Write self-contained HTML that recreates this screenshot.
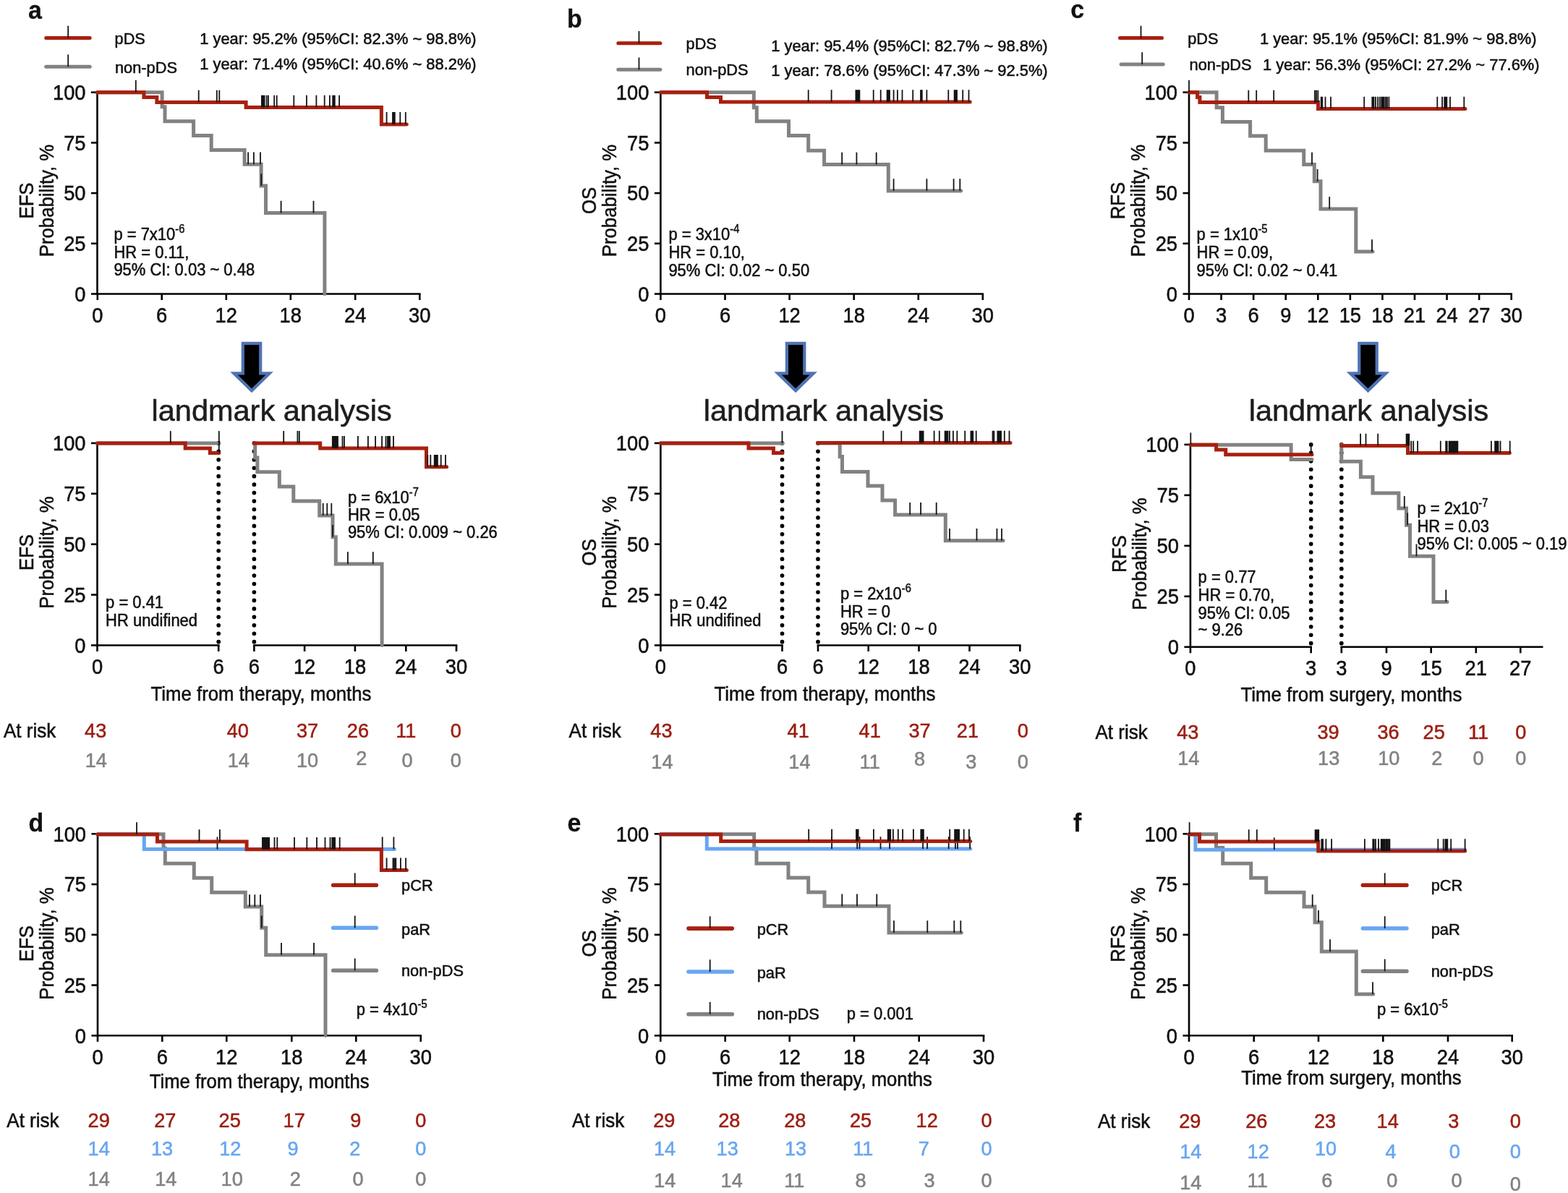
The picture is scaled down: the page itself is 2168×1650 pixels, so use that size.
<!DOCTYPE html>
<html><head><meta charset="utf-8"><title>Kaplan-Meier survival analysis</title>
<style>
html,body{margin:0;padding:0;background:#fff;}
body{width:2168px;height:1650px;overflow:hidden;}
svg{display:block;}
text{font-family:"Liberation Sans",Arial,Helvetica,sans-serif;}
</style></head><body>
<svg width="2168" height="1650" viewBox="0 0 2168 1650">
<rect width="2168" height="1650" fill="#fff"/>
<g fill="#111">
<text transform="translate(39.00 25.50) scale(0.9700 1)" font-size="35" font-weight="bold" stroke="#111" stroke-width="0.3">a</text>
<line x1="63.70" y1="52.50" x2="124.20" y2="52.50" stroke="#a8200f" stroke-width="5" stroke-linecap="round"/>
<path d="M94.20 52.50V35.70" stroke="#141414" stroke-width="1.8" fill="none"/>
<line x1="63.70" y1="92.20" x2="124.20" y2="92.20" stroke="#828282" stroke-width="5" stroke-linecap="round"/>
<path d="M94.20 92.20V75.40" stroke="#141414" stroke-width="1.8" fill="none"/>
<text transform="translate(158.60 60.70) scale(0.9643 1)" font-size="22.5" stroke="#111" stroke-width="0.55">pDS</text>
<text transform="translate(159.00 100.60) scale(0.9689 1)" font-size="22.5" stroke="#111" stroke-width="0.55">non-pDS</text>
<text transform="translate(276.20 60.70) scale(0.9725 1)" font-size="22.5" stroke="#111" stroke-width="0.55">1 year: 95.2% (95%CI: 82.3% ~ 98.8%)</text>
<text transform="translate(276.20 95.70) scale(0.9725 1)" font-size="22.5" stroke="#111" stroke-width="0.55">1 year: 71.4% (95%CI: 40.6% ~ 88.2%)</text>
<line x1="134.50" y1="126.40" x2="134.50" y2="407.80" stroke="#000" stroke-width="2.6"/>
<line x1="126.00" y1="127.70" x2="134.50" y2="127.70" stroke="#000" stroke-width="2.6"/>
<text transform="translate(118.50 137.90) scale(0.9550 1)" font-size="28.6" text-anchor="end" stroke="#111" stroke-width="0.55">100</text>
<line x1="126.00" y1="197.40" x2="134.50" y2="197.40" stroke="#000" stroke-width="2.6"/>
<text transform="translate(118.50 207.60) scale(0.9550 1)" font-size="28.6" text-anchor="end" stroke="#111" stroke-width="0.55">75</text>
<line x1="126.00" y1="267.10" x2="134.50" y2="267.10" stroke="#000" stroke-width="2.6"/>
<text transform="translate(118.50 277.30) scale(0.9550 1)" font-size="28.6" text-anchor="end" stroke="#111" stroke-width="0.55">50</text>
<line x1="126.00" y1="336.80" x2="134.50" y2="336.80" stroke="#000" stroke-width="2.6"/>
<text transform="translate(118.50 347.00) scale(0.9550 1)" font-size="28.6" text-anchor="end" stroke="#111" stroke-width="0.55">25</text>
<line x1="126.00" y1="406.50" x2="134.50" y2="406.50" stroke="#000" stroke-width="2.6"/>
<text transform="translate(118.50 416.70) scale(0.9550 1)" font-size="28.6" text-anchor="end" stroke="#111" stroke-width="0.55">0</text>
<line x1="133.20" y1="406.50" x2="581.60" y2="406.50" stroke="#000" stroke-width="2.6"/>
<line x1="134.80" y1="406.50" x2="134.80" y2="415.00" stroke="#000" stroke-width="2.6"/>
<text transform="translate(134.80 445.70) scale(0.9550 1)" font-size="28.6" text-anchor="middle" stroke="#111" stroke-width="0.55">0</text>
<line x1="223.70" y1="406.50" x2="223.70" y2="415.00" stroke="#000" stroke-width="2.6"/>
<text transform="translate(223.70 445.70) scale(0.9550 1)" font-size="28.6" text-anchor="middle" stroke="#111" stroke-width="0.55">6</text>
<line x1="312.80" y1="406.50" x2="312.80" y2="415.00" stroke="#000" stroke-width="2.6"/>
<text transform="translate(312.80 445.70) scale(0.9550 1)" font-size="28.6" text-anchor="middle" stroke="#111" stroke-width="0.55">12</text>
<line x1="401.80" y1="406.50" x2="401.80" y2="415.00" stroke="#000" stroke-width="2.6"/>
<text transform="translate(401.80 445.70) scale(0.9550 1)" font-size="28.6" text-anchor="middle" stroke="#111" stroke-width="0.55">18</text>
<line x1="491.20" y1="406.50" x2="491.20" y2="415.00" stroke="#000" stroke-width="2.6"/>
<text transform="translate(491.20 445.70) scale(0.9550 1)" font-size="28.6" text-anchor="middle" stroke="#111" stroke-width="0.55">24</text>
<line x1="580.30" y1="406.50" x2="580.30" y2="415.00" stroke="#000" stroke-width="2.6"/>
<text transform="translate(580.30 445.70) scale(0.9550 1)" font-size="28.6" text-anchor="middle" stroke="#111" stroke-width="0.55">30</text>
<text transform="translate(45.50 277.50) rotate(-90) scale(0.9200 1)" font-size="28" text-anchor="middle" stroke="#111" stroke-width="0.55">EFS</text>
<text transform="translate(73.50 277.50) rotate(-90) scale(0.9200 1)" font-size="28" text-anchor="middle" stroke="#111" stroke-width="0.55">Probability, %</text>
<path d="M134.5 127.7H224.1V147.7H228.0V167.7H267.6V187.6H292.2V207.5H338.1V227.2H361.1V257.0H367.5V294.6H448.9V406.5" fill="none" stroke="#828282" stroke-width="5" stroke-linecap="round" stroke-linejoin="miter"/>
<path d="M343.10 227.20V210.40 M350.90 227.20V210.40 M360.00 227.20V210.40" stroke="#141414" stroke-width="1.8" fill="none"/>
<path d="M361.30 257.00V240.20" stroke="#141414" stroke-width="1.8" fill="none"/>
<path d="M388.60 294.60V277.80 M433.50 294.60V277.80" stroke="#141414" stroke-width="1.8" fill="none"/>
<path d="M134.5 127.7H198.9V134.6H216.9V141.6H340.1V148.6H527.4V171.9H562.3" fill="none" stroke="#a8200f" stroke-width="5" stroke-linecap="round" stroke-linejoin="miter"/>
<path d="M187.80 127.70V110.90" stroke="#141414" stroke-width="1.8" fill="none"/>
<path d="M274.70 141.60V124.80 M299.80 141.60V124.80 M303.30 141.60V124.80" stroke="#141414" stroke-width="1.8" fill="none"/>
<path d="M361.90 148.60V131.80 M363.10 148.60V131.80 M364.40 148.60V131.80 M365.60 148.60V131.80 M368.60 148.60V131.80 M370.90 148.60V131.80 M379.20 148.60V131.80 M382.70 148.60V131.80 M406.30 148.60V131.80 M423.90 148.60V131.80 M437.40 148.60V131.80 M448.70 148.60V131.80 M455.90 148.60V131.80 M460.20 148.60V131.80 M461.70 148.60V131.80 M462.80 148.60V131.80 M469.10 148.60V131.80" stroke="#141414" stroke-width="1.8" fill="none"/>
<path d="M534.60 171.90V155.10 M543.00 171.90V155.10 M544.30 171.90V155.10 M545.80 171.90V155.10 M553.30 171.90V155.10 M560.80 171.90V155.10" stroke="#141414" stroke-width="1.8" fill="none"/>
<text transform="translate(157.40 332.20) scale(0.9150 1)" font-size="24" stroke="#111" stroke-width="0.55">p = 7x10<tspan font-size="16" dy="-10">-6</tspan></text>
<text transform="translate(157.40 356.60) scale(0.9150 1)" font-size="24" stroke="#111" stroke-width="0.55">HR = 0.11,</text>
<text transform="translate(157.40 381.40) scale(0.9150 1)" font-size="24" stroke="#111" stroke-width="0.55">95% CI: 0.03 ~ 0.48</text>
<text transform="translate(784.00 38.20) scale(0.9700 1)" font-size="35" font-weight="bold" stroke="#111" stroke-width="0.3">b</text>
<line x1="854.80" y1="59.80" x2="912.90" y2="59.80" stroke="#a8200f" stroke-width="5" stroke-linecap="round"/>
<path d="M883.50 59.80V43.00" stroke="#141414" stroke-width="1.8" fill="none"/>
<line x1="854.80" y1="96.30" x2="912.90" y2="96.30" stroke="#828282" stroke-width="5" stroke-linecap="round"/>
<path d="M883.50 96.30V79.50" stroke="#141414" stroke-width="1.8" fill="none"/>
<text transform="translate(948.60 68.10) scale(0.9643 1)" font-size="22.5" stroke="#111" stroke-width="0.55">pDS</text>
<text transform="translate(948.60 103.60) scale(0.9689 1)" font-size="22.5" stroke="#111" stroke-width="0.55">non-pDS</text>
<text transform="translate(1066.20 71.40) scale(0.9725 1)" font-size="22.5" stroke="#111" stroke-width="0.55">1 year: 95.4% (95%CI: 82.7% ~ 98.8%)</text>
<text transform="translate(1066.20 104.60) scale(0.9725 1)" font-size="22.5" stroke="#111" stroke-width="0.55">1 year: 78.6% (95%CI: 47.3% ~ 92.5%)</text>
<line x1="913.40" y1="126.40" x2="913.40" y2="407.80" stroke="#000" stroke-width="2.6"/>
<line x1="904.90" y1="127.70" x2="913.40" y2="127.70" stroke="#000" stroke-width="2.6"/>
<text transform="translate(897.40 137.90) scale(0.9550 1)" font-size="28.6" text-anchor="end" stroke="#111" stroke-width="0.55">100</text>
<line x1="904.90" y1="197.40" x2="913.40" y2="197.40" stroke="#000" stroke-width="2.6"/>
<text transform="translate(897.40 207.60) scale(0.9550 1)" font-size="28.6" text-anchor="end" stroke="#111" stroke-width="0.55">75</text>
<line x1="904.90" y1="267.10" x2="913.40" y2="267.10" stroke="#000" stroke-width="2.6"/>
<text transform="translate(897.40 277.30) scale(0.9550 1)" font-size="28.6" text-anchor="end" stroke="#111" stroke-width="0.55">50</text>
<line x1="904.90" y1="336.80" x2="913.40" y2="336.80" stroke="#000" stroke-width="2.6"/>
<text transform="translate(897.40 347.00) scale(0.9550 1)" font-size="28.6" text-anchor="end" stroke="#111" stroke-width="0.55">25</text>
<line x1="904.90" y1="406.50" x2="913.40" y2="406.50" stroke="#000" stroke-width="2.6"/>
<text transform="translate(897.40 416.70) scale(0.9550 1)" font-size="28.6" text-anchor="end" stroke="#111" stroke-width="0.55">0</text>
<line x1="912.10" y1="406.50" x2="1360.10" y2="406.50" stroke="#000" stroke-width="2.6"/>
<line x1="913.40" y1="406.50" x2="913.40" y2="415.00" stroke="#000" stroke-width="2.6"/>
<text transform="translate(913.40 445.70) scale(0.9550 1)" font-size="28.6" text-anchor="middle" stroke="#111" stroke-width="0.55">0</text>
<line x1="1002.50" y1="406.50" x2="1002.50" y2="415.00" stroke="#000" stroke-width="2.6"/>
<text transform="translate(1002.50 445.70) scale(0.9550 1)" font-size="28.6" text-anchor="middle" stroke="#111" stroke-width="0.55">6</text>
<line x1="1091.60" y1="406.50" x2="1091.60" y2="415.00" stroke="#000" stroke-width="2.6"/>
<text transform="translate(1091.60 445.70) scale(0.9550 1)" font-size="28.6" text-anchor="middle" stroke="#111" stroke-width="0.55">12</text>
<line x1="1180.70" y1="406.50" x2="1180.70" y2="415.00" stroke="#000" stroke-width="2.6"/>
<text transform="translate(1180.70 445.70) scale(0.9550 1)" font-size="28.6" text-anchor="middle" stroke="#111" stroke-width="0.55">18</text>
<line x1="1269.80" y1="406.50" x2="1269.80" y2="415.00" stroke="#000" stroke-width="2.6"/>
<text transform="translate(1269.80 445.70) scale(0.9550 1)" font-size="28.6" text-anchor="middle" stroke="#111" stroke-width="0.55">24</text>
<line x1="1358.80" y1="406.50" x2="1358.80" y2="415.00" stroke="#000" stroke-width="2.6"/>
<text transform="translate(1358.80 445.70) scale(0.9550 1)" font-size="28.6" text-anchor="middle" stroke="#111" stroke-width="0.55">30</text>
<text transform="translate(824.40 277.50) rotate(-90) scale(0.9200 1)" font-size="28" text-anchor="middle" stroke="#111" stroke-width="0.55">OS</text>
<text transform="translate(852.40 277.50) rotate(-90) scale(0.9200 1)" font-size="28" text-anchor="middle" stroke="#111" stroke-width="0.55">Probability, %</text>
<path d="M913.4 127.7H1042.3V148.8H1046.3V167.7H1090.5V187.6H1117.7V208.2H1139.6V227.5H1228.3V264.0H1328.6" fill="none" stroke="#828282" stroke-width="5" stroke-linecap="round" stroke-linejoin="miter"/>
<path d="M1164.20 227.50V210.70 M1184.40 227.50V210.70 M1211.70 227.50V210.70" stroke="#141414" stroke-width="1.8" fill="none"/>
<path d="M1235.60 264.00V247.20 M1281.40 264.00V247.20 M1318.60 264.00V247.20 M1327.30 264.00V247.20" stroke="#141414" stroke-width="1.8" fill="none"/>
<path d="M913.4 127.7H977.5V134.5H996.5V141.1H1341.2" fill="none" stroke="#a8200f" stroke-width="5" stroke-linecap="round" stroke-linejoin="miter"/>
<path d="M1117.70 141.10V124.30 M1149.60 141.10V124.30 M1183.40 141.10V124.30 M1185.00 141.10V124.30 M1186.70 141.10V124.30 M1188.40 141.10V124.30 M1207.70 141.10V124.30 M1217.70 141.10V124.30 M1226.60 141.10V124.30 M1228.30 141.10V124.30 M1230.00 141.10V124.30 M1235.60 141.10V124.30 M1240.90 141.10V124.30 M1247.50 141.10V124.30 M1262.20 141.10V124.30 M1273.00 141.10V124.30 M1274.80 141.10V124.30 M1281.40 141.10V124.30 M1311.30 141.10V124.30 M1319.60 141.10V124.30 M1321.30 141.10V124.30 M1323.00 141.10V124.30 M1331.20 141.10V124.30 M1339.50 141.10V124.30" stroke="#141414" stroke-width="1.8" fill="none"/>
<text transform="translate(924.40 332.10) scale(0.9150 1)" font-size="24" stroke="#111" stroke-width="0.55">p = 3x10<tspan font-size="16" dy="-10">-4</tspan></text>
<text transform="translate(924.40 357.00) scale(0.9150 1)" font-size="24" stroke="#111" stroke-width="0.55">HR = 0.10,</text>
<text transform="translate(924.40 381.90) scale(0.9150 1)" font-size="24" stroke="#111" stroke-width="0.55">95% CI: 0.02 ~ 0.50</text>
<text transform="translate(1480.30 24.90) scale(0.9700 1)" font-size="35" font-weight="bold" stroke="#111" stroke-width="0.3">c</text>
<line x1="1548.50" y1="52.50" x2="1606.50" y2="52.50" stroke="#a8200f" stroke-width="5" stroke-linecap="round"/>
<path d="M1577.50 52.50V35.70" stroke="#141414" stroke-width="1.8" fill="none"/>
<line x1="1550.10" y1="89.00" x2="1608.20" y2="89.00" stroke="#828282" stroke-width="5" stroke-linecap="round"/>
<path d="M1579.20 89.00V72.20" stroke="#141414" stroke-width="1.8" fill="none"/>
<text transform="translate(1642.30 61.40) scale(0.9643 1)" font-size="22.5" stroke="#111" stroke-width="0.55">pDS</text>
<text transform="translate(1644.60 97.00) scale(0.9689 1)" font-size="22.5" stroke="#111" stroke-width="0.55">non-pDS</text>
<text transform="translate(1741.90 61.40) scale(0.9738 1)" font-size="22.5" stroke="#111" stroke-width="0.55">1 year: 95.1% (95%CI: 81.9% ~ 98.8%)</text>
<text transform="translate(1745.90 97.00) scale(0.9738 1)" font-size="22.5" stroke="#111" stroke-width="0.55">1 year: 56.3% (95%CI: 27.2% ~ 77.6%)</text>
<line x1="1644.00" y1="126.40" x2="1644.00" y2="407.80" stroke="#000" stroke-width="2.6"/>
<line x1="1635.50" y1="127.70" x2="1644.00" y2="127.70" stroke="#000" stroke-width="2.6"/>
<text transform="translate(1628.00 137.90) scale(0.9550 1)" font-size="28.6" text-anchor="end" stroke="#111" stroke-width="0.55">100</text>
<line x1="1635.50" y1="197.40" x2="1644.00" y2="197.40" stroke="#000" stroke-width="2.6"/>
<text transform="translate(1628.00 207.60) scale(0.9550 1)" font-size="28.6" text-anchor="end" stroke="#111" stroke-width="0.55">75</text>
<line x1="1635.50" y1="267.10" x2="1644.00" y2="267.10" stroke="#000" stroke-width="2.6"/>
<text transform="translate(1628.00 277.30) scale(0.9550 1)" font-size="28.6" text-anchor="end" stroke="#111" stroke-width="0.55">50</text>
<line x1="1635.50" y1="336.80" x2="1644.00" y2="336.80" stroke="#000" stroke-width="2.6"/>
<text transform="translate(1628.00 347.00) scale(0.9550 1)" font-size="28.6" text-anchor="end" stroke="#111" stroke-width="0.55">25</text>
<line x1="1635.50" y1="406.50" x2="1644.00" y2="406.50" stroke="#000" stroke-width="2.6"/>
<text transform="translate(1628.00 416.70) scale(0.9550 1)" font-size="28.6" text-anchor="end" stroke="#111" stroke-width="0.55">0</text>
<line x1="1642.70" y1="406.50" x2="2091.00" y2="406.50" stroke="#000" stroke-width="2.6"/>
<line x1="1644.00" y1="406.50" x2="1644.00" y2="415.00" stroke="#000" stroke-width="2.6"/>
<text transform="translate(1644.00 445.70) scale(0.9550 1)" font-size="28.6" text-anchor="middle" stroke="#111" stroke-width="0.55">0</text>
<line x1="1688.57" y1="406.50" x2="1688.57" y2="415.00" stroke="#000" stroke-width="2.6"/>
<text transform="translate(1688.57 445.70) scale(0.9550 1)" font-size="28.6" text-anchor="middle" stroke="#111" stroke-width="0.55">3</text>
<line x1="1733.14" y1="406.50" x2="1733.14" y2="415.00" stroke="#000" stroke-width="2.6"/>
<text transform="translate(1733.14 445.70) scale(0.9550 1)" font-size="28.6" text-anchor="middle" stroke="#111" stroke-width="0.55">6</text>
<line x1="1777.71" y1="406.50" x2="1777.71" y2="415.00" stroke="#000" stroke-width="2.6"/>
<text transform="translate(1777.71 445.70) scale(0.9550 1)" font-size="28.6" text-anchor="middle" stroke="#111" stroke-width="0.55">9</text>
<line x1="1822.28" y1="406.50" x2="1822.28" y2="415.00" stroke="#000" stroke-width="2.6"/>
<text transform="translate(1822.28 445.70) scale(0.9550 1)" font-size="28.6" text-anchor="middle" stroke="#111" stroke-width="0.55">12</text>
<line x1="1866.85" y1="406.50" x2="1866.85" y2="415.00" stroke="#000" stroke-width="2.6"/>
<text transform="translate(1866.85 445.70) scale(0.9550 1)" font-size="28.6" text-anchor="middle" stroke="#111" stroke-width="0.55">15</text>
<line x1="1911.42" y1="406.50" x2="1911.42" y2="415.00" stroke="#000" stroke-width="2.6"/>
<text transform="translate(1911.42 445.70) scale(0.9550 1)" font-size="28.6" text-anchor="middle" stroke="#111" stroke-width="0.55">18</text>
<line x1="1955.99" y1="406.50" x2="1955.99" y2="415.00" stroke="#000" stroke-width="2.6"/>
<text transform="translate(1955.99 445.70) scale(0.9550 1)" font-size="28.6" text-anchor="middle" stroke="#111" stroke-width="0.55">21</text>
<line x1="2000.56" y1="406.50" x2="2000.56" y2="415.00" stroke="#000" stroke-width="2.6"/>
<text transform="translate(2000.56 445.70) scale(0.9550 1)" font-size="28.6" text-anchor="middle" stroke="#111" stroke-width="0.55">24</text>
<line x1="2045.13" y1="406.50" x2="2045.13" y2="415.00" stroke="#000" stroke-width="2.6"/>
<text transform="translate(2045.13 445.70) scale(0.9550 1)" font-size="28.6" text-anchor="middle" stroke="#111" stroke-width="0.55">27</text>
<line x1="2089.70" y1="406.50" x2="2089.70" y2="415.00" stroke="#000" stroke-width="2.6"/>
<text transform="translate(2089.70 445.70) scale(0.9550 1)" font-size="28.6" text-anchor="middle" stroke="#111" stroke-width="0.55">30</text>
<text transform="translate(1555.00 277.50) rotate(-90) scale(0.9200 1)" font-size="28" text-anchor="middle" stroke="#111" stroke-width="0.55">RFS</text>
<text transform="translate(1583.00 277.50) rotate(-90) scale(0.9200 1)" font-size="28" text-anchor="middle" stroke="#111" stroke-width="0.55">Probability, %</text>
<path d="M1644 127.7H1682.1V148.8H1690.4V168.4H1728.6V188.0H1750.2V208.2H1802.7V227.5H1817.3V250.7H1826.0V288.9H1874.8V348.0H1898.0" fill="none" stroke="#828282" stroke-width="5" stroke-linecap="round" stroke-linejoin="miter"/>
<path d="M1814.00 227.50V210.70" stroke="#141414" stroke-width="1.8" fill="none"/>
<path d="M1821.60 250.70V233.90" stroke="#141414" stroke-width="1.8" fill="none"/>
<path d="M1838.20 288.90V272.10" stroke="#141414" stroke-width="1.8" fill="none"/>
<path d="M1897.00 348.00V331.20" stroke="#141414" stroke-width="1.8" fill="none"/>
<path d="M1644 127.7H1655.6V134.5H1658.9V141.6H1822.5V150.6H2025.9" fill="none" stroke="#a8200f" stroke-width="5" stroke-linecap="round" stroke-linejoin="miter"/>
<path d="M1644.00 127.70V110.90" stroke="#141414" stroke-width="1.8" fill="none"/>
<path d="M1726.30 141.60V124.80 M1737.20 141.60V124.80 M1761.20 141.60V124.80 M1817.90 141.60V124.80 M1820.00 141.60V124.80 M1822.30 141.60V124.80" stroke="#141414" stroke-width="1.8" fill="none"/>
<path d="M1826.70 150.60V133.80 M1828.30 150.60V133.80 M1832.50 150.60V133.80 M1840.00 150.60V133.80 M1886.20 150.60V133.80 M1897.30 150.60V133.80 M1898.40 150.60V133.80 M1899.50 150.60V133.80 M1902.00 150.60V133.80 M1905.10 150.60V133.80 M1907.80 150.60V133.80 M1910.20 150.60V133.80 M1911.40 150.60V133.80 M1912.70 150.60V133.80 M1913.80 150.60V133.80 M1916.00 150.60V133.80 M1918.00 150.60V133.80 M1920.40 150.60V133.80 M1987.30 150.60V133.80 M1994.10 150.60V133.80 M1997.20 150.60V133.80 M1998.80 150.60V133.80 M2000.30 150.60V133.80 M2005.00 150.60V133.80 M2024.30 150.60V133.80" stroke="#141414" stroke-width="1.8" fill="none"/>
<text transform="translate(1654.60 332.10) scale(0.9150 1)" font-size="24" stroke="#111" stroke-width="0.55">p = 1x10<tspan font-size="16" dy="-10">-5</tspan></text>
<text transform="translate(1654.60 357.00) scale(0.9150 1)" font-size="24" stroke="#111" stroke-width="0.55">HR = 0.09,</text>
<text transform="translate(1654.60 381.90) scale(0.9150 1)" font-size="24" stroke="#111" stroke-width="0.55">95% CI: 0.02 ~ 0.41</text>
<path d="M335.8 474.9H360.2V516.3H372.6L348.0 540.3L323.4 516.3H335.8Z" fill="#000" stroke="#4f72b3" stroke-width="4.2" stroke-linejoin="miter"/>
<path d="M1087.9 474.9H1112.3V516.3H1124.7L1100.1 540.3L1075.5 516.3H1087.9Z" fill="#000" stroke="#4f72b3" stroke-width="4.2" stroke-linejoin="miter"/>
<path d="M1879.3 474.9H1903.7V516.3H1916.1L1891.5 540.3L1866.9 516.3H1879.3Z" fill="#000" stroke="#4f72b3" stroke-width="4.2" stroke-linejoin="miter"/>
<text transform="translate(209.50 581.80)" font-size="41.5" fill="#1d1d1d" stroke="#1d1d1d" stroke-width="0.55">landmark analysis</text>
<text transform="translate(972.80 581.80)" font-size="41.5" fill="#1d1d1d" stroke="#1d1d1d" stroke-width="0.55">landmark analysis</text>
<text transform="translate(1726.80 581.80) scale(0.9979 1)" font-size="41.5" fill="#1d1d1d" stroke="#1d1d1d" stroke-width="0.55">landmark analysis</text>
<line x1="134.50" y1="611.60" x2="134.50" y2="893.80" stroke="#000" stroke-width="2.6"/>
<line x1="126.00" y1="612.90" x2="134.50" y2="612.90" stroke="#000" stroke-width="2.6"/>
<text transform="translate(118.50 623.10) scale(0.9550 1)" font-size="28.6" text-anchor="end" stroke="#111" stroke-width="0.55">100</text>
<line x1="126.00" y1="682.80" x2="134.50" y2="682.80" stroke="#000" stroke-width="2.6"/>
<text transform="translate(118.50 693.00) scale(0.9550 1)" font-size="28.6" text-anchor="end" stroke="#111" stroke-width="0.55">75</text>
<line x1="126.00" y1="752.70" x2="134.50" y2="752.70" stroke="#000" stroke-width="2.6"/>
<text transform="translate(118.50 762.90) scale(0.9550 1)" font-size="28.6" text-anchor="end" stroke="#111" stroke-width="0.55">50</text>
<line x1="126.00" y1="822.60" x2="134.50" y2="822.60" stroke="#000" stroke-width="2.6"/>
<text transform="translate(118.50 832.80) scale(0.9550 1)" font-size="28.6" text-anchor="end" stroke="#111" stroke-width="0.55">25</text>
<line x1="126.00" y1="892.50" x2="134.50" y2="892.50" stroke="#000" stroke-width="2.6"/>
<text transform="translate(118.50 902.70) scale(0.9550 1)" font-size="28.6" text-anchor="end" stroke="#111" stroke-width="0.55">0</text>
<line x1="133.20" y1="892.50" x2="303.50" y2="892.50" stroke="#000" stroke-width="2.6"/>
<line x1="134.50" y1="892.50" x2="134.50" y2="901.00" stroke="#000" stroke-width="2.6"/>
<text transform="translate(134.50 931.50) scale(0.9550 1)" font-size="28.6" text-anchor="middle" stroke="#111" stroke-width="0.55">0</text>
<line x1="302.20" y1="892.50" x2="302.20" y2="901.00" stroke="#000" stroke-width="2.6"/>
<text transform="translate(302.20 931.50) scale(0.9550 1)" font-size="28.6" text-anchor="middle" stroke="#111" stroke-width="0.55">6</text>
<line x1="350.10" y1="892.50" x2="632.30" y2="892.50" stroke="#000" stroke-width="2.6"/>
<line x1="351.40" y1="892.50" x2="351.40" y2="901.00" stroke="#000" stroke-width="2.6"/>
<text transform="translate(351.40 931.50) scale(0.9550 1)" font-size="28.6" text-anchor="middle" stroke="#111" stroke-width="0.55">6</text>
<line x1="421.10" y1="892.50" x2="421.10" y2="901.00" stroke="#000" stroke-width="2.6"/>
<text transform="translate(421.10 931.50) scale(0.9550 1)" font-size="28.6" text-anchor="middle" stroke="#111" stroke-width="0.55">12</text>
<line x1="490.90" y1="892.50" x2="490.90" y2="901.00" stroke="#000" stroke-width="2.6"/>
<text transform="translate(490.90 931.50) scale(0.9550 1)" font-size="28.6" text-anchor="middle" stroke="#111" stroke-width="0.55">18</text>
<line x1="561.30" y1="892.50" x2="561.30" y2="901.00" stroke="#000" stroke-width="2.6"/>
<text transform="translate(561.30 931.50) scale(0.9550 1)" font-size="28.6" text-anchor="middle" stroke="#111" stroke-width="0.55">24</text>
<line x1="631.00" y1="892.50" x2="631.00" y2="901.00" stroke="#000" stroke-width="2.6"/>
<text transform="translate(631.00 931.50) scale(0.9550 1)" font-size="28.6" text-anchor="middle" stroke="#111" stroke-width="0.55">30</text>
<text transform="translate(45.50 764.00) rotate(-90) scale(0.9200 1)" font-size="28" text-anchor="middle" stroke="#111" stroke-width="0.55">EFS</text>
<text transform="translate(73.50 764.00) rotate(-90) scale(0.9200 1)" font-size="28" text-anchor="middle" stroke="#111" stroke-width="0.55">Probability, %</text>
<line x1="302.20" y1="612.90" x2="302.20" y2="888.50" stroke="#000" stroke-width="5.7" stroke-linecap="round" stroke-dasharray="0 11.45"/>
<line x1="351.40" y1="612.90" x2="351.40" y2="888.50" stroke="#000" stroke-width="5.7" stroke-linecap="round" stroke-dasharray="0 11.45"/>
<path d="M134.5 612.9H302.8" fill="none" stroke="#828282" stroke-width="5" stroke-linecap="round" stroke-linejoin="miter"/>
<path d="M302.80 612.90V596.10" stroke="#141414" stroke-width="1.8" fill="none"/>
<path d="M134.5 612.9H256.2V620.0H290.4V626.5H302.8" fill="none" stroke="#a8200f" stroke-width="5" stroke-linecap="round" stroke-linejoin="miter"/>
<path d="M235.80 612.90V596.10" stroke="#141414" stroke-width="1.8" fill="none"/>
<path d="M302.80 626.50V609.70" stroke="#141414" stroke-width="1.8" fill="none"/>
<path d="M351.4 612.9H352.7V632.9H355.9V652.8H386.3V673.0H405.8V693.0H441.7V712.9H460.0V742.8H464.3V780.0H528.1V892.5" fill="none" stroke="#828282" stroke-width="5" stroke-linecap="round" stroke-linejoin="miter"/>
<path d="M446.70 712.90V696.10 M452.30 712.90V696.10 M458.30 712.90V696.10" stroke="#141414" stroke-width="1.8" fill="none"/>
<path d="M460.00 742.80V726.00" stroke="#141414" stroke-width="1.8" fill="none"/>
<path d="M480.90 780.00V763.20 M515.80 780.00V763.20" stroke="#141414" stroke-width="1.8" fill="none"/>
<path d="M351.4 612.9H442.7V619.9H589.5V645.8H617.6" fill="none" stroke="#a8200f" stroke-width="5" stroke-linecap="round" stroke-linejoin="miter"/>
<path d="M392.20 612.90V596.10 M411.40 612.90V596.10 M413.80 612.90V596.10" stroke="#141414" stroke-width="1.8" fill="none"/>
<path d="M459.80 619.90V603.10 M461.00 619.90V603.10 M462.20 619.90V603.10 M463.40 619.90V603.10 M464.60 619.90V603.10 M465.80 619.90V603.10 M467.00 619.90V603.10 M473.50 619.90V603.10 M476.00 619.90V603.10 M494.90 619.90V603.10 M508.90 619.90V603.10 M519.10 619.90V603.10 M528.10 619.90V603.10 M533.50 619.90V603.10 M536.00 619.90V603.10 M537.50 619.90V603.10 M539.00 619.90V603.10 M544.00 619.90V603.10" stroke="#141414" stroke-width="1.8" fill="none"/>
<path d="M591.30 645.80V629.00 M595.30 645.80V629.00 M600.70 645.80V629.00 M602.00 645.80V629.00 M603.30 645.80V629.00 M604.90 645.80V629.00 M609.70 645.80V629.00 M616.00 645.80V629.00" stroke="#141414" stroke-width="1.8" fill="none"/>
<text transform="translate(146.10 840.70) scale(0.9150 1)" font-size="24" stroke="#111" stroke-width="0.55">p = 0.41</text>
<text transform="translate(146.10 865.70) scale(0.9150 1)" font-size="24" stroke="#111" stroke-width="0.55">HR undifined</text>
<text transform="translate(480.90 695.60) scale(0.9150 1)" font-size="24" stroke="#111" stroke-width="0.55">p = 6x10<tspan font-size="16" dy="-10">-7</tspan></text>
<text transform="translate(480.90 720.20) scale(0.9150 1)" font-size="24" stroke="#111" stroke-width="0.55">HR = 0.05</text>
<text transform="translate(480.90 744.40) scale(0.9150 1)" font-size="24" stroke="#111" stroke-width="0.55">95% CI: 0.009 ~ 0.26</text>
<text transform="translate(208.60 969.00) scale(0.9371 1)" font-size="27.5" stroke="#111" stroke-width="0.55">Time from therapy, months</text>
<text transform="translate(5.00 1019.50) scale(0.9300 1)" font-size="28" stroke="#111" stroke-width="0.55">At risk</text>
<text transform="translate(132.20 1019.50) scale(0.9700 1)" font-size="28" text-anchor="middle" fill="#9c1d10" stroke="#9c1d10" stroke-width="0.55">43</text>
<text transform="translate(328.80 1019.50) scale(0.9700 1)" font-size="28" text-anchor="middle" fill="#9c1d10" stroke="#9c1d10" stroke-width="0.55">40</text>
<text transform="translate(425.10 1019.50) scale(0.9700 1)" font-size="28" text-anchor="middle" fill="#9c1d10" stroke="#9c1d10" stroke-width="0.55">37</text>
<text transform="translate(494.90 1019.50) scale(0.9700 1)" font-size="28" text-anchor="middle" fill="#9c1d10" stroke="#9c1d10" stroke-width="0.55">26</text>
<text transform="translate(561.30 1019.50) scale(0.9700 1)" font-size="28" text-anchor="middle" fill="#9c1d10" stroke="#9c1d10" stroke-width="0.55">11</text>
<text transform="translate(630.40 1019.50) scale(0.9700 1)" font-size="28" text-anchor="middle" fill="#9c1d10" stroke="#9c1d10" stroke-width="0.55">0</text>
<text transform="translate(132.80 1061.00) scale(0.9700 1)" font-size="28" text-anchor="middle" fill="#828282" stroke="#828282" stroke-width="0.55">14</text>
<text transform="translate(329.80 1061.00) scale(0.9700 1)" font-size="28" text-anchor="middle" fill="#828282" stroke="#828282" stroke-width="0.55">14</text>
<text transform="translate(425.10 1061.00) scale(0.9700 1)" font-size="28" text-anchor="middle" fill="#828282" stroke="#828282" stroke-width="0.55">10</text>
<text transform="translate(499.80 1057.70) scale(0.9700 1)" font-size="28" text-anchor="middle" fill="#828282" stroke="#828282" stroke-width="0.55">2</text>
<text transform="translate(563.00 1061.00) scale(0.9700 1)" font-size="28" text-anchor="middle" fill="#828282" stroke="#828282" stroke-width="0.55">0</text>
<text transform="translate(630.40 1061.00) scale(0.9700 1)" font-size="28" text-anchor="middle" fill="#828282" stroke="#828282" stroke-width="0.55">0</text>
<line x1="913.40" y1="611.60" x2="913.40" y2="893.80" stroke="#000" stroke-width="2.6"/>
<line x1="904.90" y1="612.90" x2="913.40" y2="612.90" stroke="#000" stroke-width="2.6"/>
<text transform="translate(897.40 623.10) scale(0.9550 1)" font-size="28.6" text-anchor="end" stroke="#111" stroke-width="0.55">100</text>
<line x1="904.90" y1="682.80" x2="913.40" y2="682.80" stroke="#000" stroke-width="2.6"/>
<text transform="translate(897.40 693.00) scale(0.9550 1)" font-size="28.6" text-anchor="end" stroke="#111" stroke-width="0.55">75</text>
<line x1="904.90" y1="752.70" x2="913.40" y2="752.70" stroke="#000" stroke-width="2.6"/>
<text transform="translate(897.40 762.90) scale(0.9550 1)" font-size="28.6" text-anchor="end" stroke="#111" stroke-width="0.55">50</text>
<line x1="904.90" y1="822.60" x2="913.40" y2="822.60" stroke="#000" stroke-width="2.6"/>
<text transform="translate(897.40 832.80) scale(0.9550 1)" font-size="28.6" text-anchor="end" stroke="#111" stroke-width="0.55">25</text>
<line x1="904.90" y1="892.50" x2="913.40" y2="892.50" stroke="#000" stroke-width="2.6"/>
<text transform="translate(897.40 902.70) scale(0.9550 1)" font-size="28.6" text-anchor="end" stroke="#111" stroke-width="0.55">0</text>
<line x1="912.10" y1="892.50" x2="1082.80" y2="892.50" stroke="#000" stroke-width="2.6"/>
<line x1="913.40" y1="892.50" x2="913.40" y2="901.00" stroke="#000" stroke-width="2.6"/>
<text transform="translate(913.40 931.50) scale(0.9550 1)" font-size="28.6" text-anchor="middle" stroke="#111" stroke-width="0.55">0</text>
<line x1="1081.50" y1="892.50" x2="1081.50" y2="901.00" stroke="#000" stroke-width="2.6"/>
<text transform="translate(1081.50 931.50) scale(0.9550 1)" font-size="28.6" text-anchor="middle" stroke="#111" stroke-width="0.55">6</text>
<line x1="1129.70" y1="892.50" x2="1411.60" y2="892.50" stroke="#000" stroke-width="2.6"/>
<line x1="1131.00" y1="892.50" x2="1131.00" y2="901.00" stroke="#000" stroke-width="2.6"/>
<text transform="translate(1131.00 931.50) scale(0.9550 1)" font-size="28.6" text-anchor="middle" stroke="#111" stroke-width="0.55">6</text>
<line x1="1200.70" y1="892.50" x2="1200.70" y2="901.00" stroke="#000" stroke-width="2.6"/>
<text transform="translate(1200.70 931.50) scale(0.9550 1)" font-size="28.6" text-anchor="middle" stroke="#111" stroke-width="0.55">12</text>
<line x1="1270.50" y1="892.50" x2="1270.50" y2="901.00" stroke="#000" stroke-width="2.6"/>
<text transform="translate(1270.50 931.50) scale(0.9550 1)" font-size="28.6" text-anchor="middle" stroke="#111" stroke-width="0.55">18</text>
<line x1="1340.50" y1="892.50" x2="1340.50" y2="901.00" stroke="#000" stroke-width="2.6"/>
<text transform="translate(1340.50 931.50) scale(0.9550 1)" font-size="28.6" text-anchor="middle" stroke="#111" stroke-width="0.55">24</text>
<line x1="1410.30" y1="892.50" x2="1410.30" y2="901.00" stroke="#000" stroke-width="2.6"/>
<text transform="translate(1410.30 931.50) scale(0.9550 1)" font-size="28.6" text-anchor="middle" stroke="#111" stroke-width="0.55">30</text>
<text transform="translate(824.40 764.00) rotate(-90) scale(0.9200 1)" font-size="28" text-anchor="middle" stroke="#111" stroke-width="0.55">OS</text>
<text transform="translate(852.40 764.00) rotate(-90) scale(0.9200 1)" font-size="28" text-anchor="middle" stroke="#111" stroke-width="0.55">Probability, %</text>
<line x1="1081.50" y1="612.90" x2="1081.50" y2="888.50" stroke="#000" stroke-width="5.7" stroke-linecap="round" stroke-dasharray="0 11.45"/>
<line x1="1131.00" y1="612.90" x2="1131.00" y2="888.50" stroke="#000" stroke-width="5.7" stroke-linecap="round" stroke-dasharray="0 11.45"/>
<path d="M913.4 612.9H1082.0" fill="none" stroke="#828282" stroke-width="5" stroke-linecap="round" stroke-linejoin="miter"/>
<path d="M913.4 612.9H1035.0V619.9H1069.5V626.5H1082.0" fill="none" stroke="#a8200f" stroke-width="5" stroke-linecap="round" stroke-linejoin="miter"/>
<path d="M1131 612.9H1161.2V631.5H1164.5V652.4H1200.0V672.0H1220.0V692.0H1237.6V711.9H1307.3V747.8H1387.0" fill="none" stroke="#828282" stroke-width="5" stroke-linecap="round" stroke-linejoin="miter"/>
<path d="M1081.50 612.90V596.10" stroke="#141414" stroke-width="1.8" fill="none"/>
<path d="M1258.20 711.90V695.10 M1273.10 711.90V695.10 M1294.70 711.90V695.10" stroke="#141414" stroke-width="1.8" fill="none"/>
<path d="M1313.00 747.80V731.00 M1350.50 747.80V731.00 M1378.40 747.80V731.00 M1385.00 747.80V731.00" stroke="#141414" stroke-width="1.8" fill="none"/>
<path d="M1131 612.6H1397.0" fill="none" stroke="#a8200f" stroke-width="5" stroke-linecap="round" stroke-linejoin="miter"/>
<path d="M1221.30 612.60V595.80 M1246.30 612.60V595.80 M1271.70 612.60V595.80 M1273.00 612.60V595.80 M1274.30 612.60V595.80 M1275.50 612.60V595.80 M1276.60 612.60V595.80 M1291.60 612.60V595.80 M1298.80 612.60V595.80 M1306.60 612.60V595.80 M1308.00 612.60V595.80 M1309.30 612.60V595.80 M1310.50 612.60V595.80 M1312.90 612.60V595.80 M1317.90 612.60V595.80 M1323.30 612.60V595.80 M1334.20 612.60V595.80 M1342.40 612.60V595.80 M1343.90 612.60V595.80 M1345.30 612.60V595.80 M1349.70 612.60V595.80 M1372.50 612.60V595.80 M1374.40 612.60V595.80 M1379.30 612.60V595.80 M1380.90 612.60V595.80 M1382.50 612.60V595.80 M1384.10 612.60V595.80 M1388.80 612.60V595.80 M1395.50 612.60V595.80" stroke="#141414" stroke-width="1.8" fill="none"/>
<text transform="translate(925.40 841.70) scale(0.9150 1)" font-size="24" stroke="#111" stroke-width="0.55">p = 0.42</text>
<text transform="translate(925.40 866.30) scale(0.9150 1)" font-size="24" stroke="#111" stroke-width="0.55">HR undifined</text>
<text transform="translate(1161.90 829.10) scale(0.9150 1)" font-size="24" stroke="#111" stroke-width="0.55">p = 2x10<tspan font-size="16" dy="-10">-6</tspan></text>
<text transform="translate(1161.90 854.00) scale(0.9150 1)" font-size="24" stroke="#111" stroke-width="0.55">HR = 0</text>
<text transform="translate(1161.90 878.30) scale(0.9150 1)" font-size="24" stroke="#111" stroke-width="0.55">95% CI: 0 ~ 0</text>
<text transform="translate(987.50 969.00) scale(0.9402 1)" font-size="27.5" stroke="#111" stroke-width="0.55">Time from therapy, months</text>
<text transform="translate(786.60 1020.20) scale(0.9300 1)" font-size="28" stroke="#111" stroke-width="0.55">At risk</text>
<text transform="translate(914.40 1020.20) scale(0.9700 1)" font-size="28" text-anchor="middle" fill="#9c1d10" stroke="#9c1d10" stroke-width="0.55">43</text>
<text transform="translate(1103.70 1020.20) scale(0.9700 1)" font-size="28" text-anchor="middle" fill="#9c1d10" stroke="#9c1d10" stroke-width="0.55">41</text>
<text transform="translate(1202.70 1020.20) scale(0.9700 1)" font-size="28" text-anchor="middle" fill="#9c1d10" stroke="#9c1d10" stroke-width="0.55">41</text>
<text transform="translate(1271.50 1020.20) scale(0.9700 1)" font-size="28" text-anchor="middle" fill="#9c1d10" stroke="#9c1d10" stroke-width="0.55">37</text>
<text transform="translate(1337.90 1020.20) scale(0.9700 1)" font-size="28" text-anchor="middle" fill="#9c1d10" stroke="#9c1d10" stroke-width="0.55">21</text>
<text transform="translate(1414.30 1020.20) scale(0.9700 1)" font-size="28" text-anchor="middle" fill="#9c1d10" stroke="#9c1d10" stroke-width="0.55">0</text>
<text transform="translate(915.40 1063.30) scale(0.9700 1)" font-size="28" text-anchor="middle" fill="#828282" stroke="#828282" stroke-width="0.55">14</text>
<text transform="translate(1105.40 1063.30) scale(0.9700 1)" font-size="28" text-anchor="middle" fill="#828282" stroke="#828282" stroke-width="0.55">14</text>
<text transform="translate(1202.70 1063.30) scale(0.9700 1)" font-size="28" text-anchor="middle" fill="#828282" stroke="#828282" stroke-width="0.55">11</text>
<text transform="translate(1271.50 1059.30) scale(0.9700 1)" font-size="28" text-anchor="middle" fill="#828282" stroke="#828282" stroke-width="0.55">8</text>
<text transform="translate(1342.90 1063.30) scale(0.9700 1)" font-size="28" text-anchor="middle" fill="#828282" stroke="#828282" stroke-width="0.55">3</text>
<text transform="translate(1414.30 1063.30) scale(0.9700 1)" font-size="28" text-anchor="middle" fill="#828282" stroke="#828282" stroke-width="0.55">0</text>
<line x1="1645.90" y1="613.60" x2="1645.90" y2="896.10" stroke="#000" stroke-width="2.6"/>
<line x1="1637.40" y1="614.90" x2="1645.90" y2="614.90" stroke="#000" stroke-width="2.6"/>
<text transform="translate(1629.90 625.10) scale(0.9550 1)" font-size="28.6" text-anchor="end" stroke="#111" stroke-width="0.55">100</text>
<line x1="1637.40" y1="684.88" x2="1645.90" y2="684.88" stroke="#000" stroke-width="2.6"/>
<text transform="translate(1629.90 695.08) scale(0.9550 1)" font-size="28.6" text-anchor="end" stroke="#111" stroke-width="0.55">75</text>
<line x1="1637.40" y1="754.85" x2="1645.90" y2="754.85" stroke="#000" stroke-width="2.6"/>
<text transform="translate(1629.90 765.05) scale(0.9550 1)" font-size="28.6" text-anchor="end" stroke="#111" stroke-width="0.55">50</text>
<line x1="1637.40" y1="824.82" x2="1645.90" y2="824.82" stroke="#000" stroke-width="2.6"/>
<text transform="translate(1629.90 835.02) scale(0.9550 1)" font-size="28.6" text-anchor="end" stroke="#111" stroke-width="0.55">25</text>
<line x1="1637.40" y1="894.80" x2="1645.90" y2="894.80" stroke="#000" stroke-width="2.6"/>
<text transform="translate(1629.90 905.00) scale(0.9550 1)" font-size="28.6" text-anchor="end" stroke="#111" stroke-width="0.55">0</text>
<line x1="1644.60" y1="894.80" x2="1814.00" y2="894.80" stroke="#000" stroke-width="2.6"/>
<line x1="1645.90" y1="894.80" x2="1645.90" y2="903.30" stroke="#000" stroke-width="2.6"/>
<text transform="translate(1645.90 933.80) scale(0.9550 1)" font-size="28.6" text-anchor="middle" stroke="#111" stroke-width="0.55">0</text>
<line x1="1812.70" y1="894.80" x2="1812.70" y2="903.30" stroke="#000" stroke-width="2.6"/>
<text transform="translate(1812.70 933.80) scale(0.9550 1)" font-size="28.6" text-anchor="middle" stroke="#111" stroke-width="0.55">3</text>
<line x1="1853.50" y1="894.80" x2="2133.50" y2="894.80" stroke="#000" stroke-width="2.6"/>
<line x1="1854.80" y1="894.80" x2="1854.80" y2="903.30" stroke="#000" stroke-width="2.6"/>
<text transform="translate(1854.80 933.80) scale(0.9550 1)" font-size="28.6" text-anchor="middle" stroke="#111" stroke-width="0.55">3</text>
<line x1="1917.00" y1="894.80" x2="1917.00" y2="903.30" stroke="#000" stroke-width="2.6"/>
<text transform="translate(1917.00 933.80) scale(0.9550 1)" font-size="28.6" text-anchor="middle" stroke="#111" stroke-width="0.55">9</text>
<line x1="1978.70" y1="894.80" x2="1978.70" y2="903.30" stroke="#000" stroke-width="2.6"/>
<text transform="translate(1978.70 933.80) scale(0.9550 1)" font-size="28.6" text-anchor="middle" stroke="#111" stroke-width="0.55">15</text>
<line x1="2040.80" y1="894.80" x2="2040.80" y2="903.30" stroke="#000" stroke-width="2.6"/>
<text transform="translate(2040.80 933.80) scale(0.9550 1)" font-size="28.6" text-anchor="middle" stroke="#111" stroke-width="0.55">21</text>
<line x1="2102.30" y1="894.80" x2="2102.30" y2="903.30" stroke="#000" stroke-width="2.6"/>
<text transform="translate(2102.30 933.80) scale(0.9550 1)" font-size="28.6" text-anchor="middle" stroke="#111" stroke-width="0.55">27</text>
<text transform="translate(1556.90 766.00) rotate(-90) scale(0.9200 1)" font-size="28" text-anchor="middle" stroke="#111" stroke-width="0.55">RFS</text>
<text transform="translate(1584.90 766.00) rotate(-90) scale(0.9200 1)" font-size="28" text-anchor="middle" stroke="#111" stroke-width="0.55">Probability, %</text>
<line x1="1812.70" y1="614.90" x2="1812.70" y2="890.80" stroke="#000" stroke-width="5.7" stroke-linecap="round" stroke-dasharray="0 11.45"/>
<line x1="1854.80" y1="614.90" x2="1854.80" y2="890.80" stroke="#000" stroke-width="5.7" stroke-linecap="round" stroke-dasharray="0 11.45"/>
<path d="M1645.9 615.2H1785.1V635.5H1814.0" fill="none" stroke="#828282" stroke-width="5" stroke-linecap="round" stroke-linejoin="miter"/>
<path d="M1645.9 615.2H1681.6V622.1H1694.7V628.8H1814.0" fill="none" stroke="#a8200f" stroke-width="5" stroke-linecap="round" stroke-linejoin="miter"/>
<path d="M1646.30 615.20V598.40" stroke="#141414" stroke-width="1.8" fill="none"/>
<path d="M1812.70 628.80V612.00" stroke="#141414" stroke-width="1.8" fill="none"/>
<path d="M1854.8 615.2V638.2H1881.4V659.7H1898.0V682.0H1933.9V702.9H1944.5V726.2H1949.5V769.3H1982.0V832.4H2001.0" fill="none" stroke="#828282" stroke-width="5" stroke-linecap="round" stroke-linejoin="miter"/>
<path d="M1941.80 702.90V686.10" stroke="#141414" stroke-width="1.8" fill="none"/>
<path d="M1946.20 726.20V709.40" stroke="#141414" stroke-width="1.8" fill="none"/>
<path d="M1958.50 769.30V752.50" stroke="#141414" stroke-width="1.8" fill="none"/>
<path d="M1999.30 832.40V815.60" stroke="#141414" stroke-width="1.8" fill="none"/>
<path d="M1854.8 616.6H1946.5V626.6H2087.3" fill="none" stroke="#a8200f" stroke-width="5" stroke-linecap="round" stroke-linejoin="miter"/>
<path d="M1881.10 616.60V599.80 M1888.50 616.60V599.80 M1905.20 616.60V599.80 M1944.60 616.60V599.80 M1945.80 616.60V599.80 M1947.00 616.60V599.80 M1948.30 616.60V599.80" stroke="#141414" stroke-width="1.8" fill="none"/>
<path d="M1951.20 626.60V609.80 M1954.20 626.60V609.80 M1960.10 626.60V609.80 M1991.80 626.60V609.80 M1999.20 626.60V609.80 M2000.70 626.60V609.80 M2003.60 626.60V609.80 M2005.10 626.60V609.80 M2006.60 626.60V609.80 M2008.10 626.60V609.80 M2009.60 626.60V609.80 M2011.10 626.60V609.80 M2012.50 626.60V609.80 M2014.00 626.60V609.80 M2015.40 626.60V609.80 M2061.90 626.60V609.80 M2067.10 626.60V609.80 M2068.60 626.60V609.80 M2070.00 626.60V609.80 M2071.50 626.60V609.80 M2074.50 626.60V609.80 M2087.70 626.60V609.80" stroke="#141414" stroke-width="1.8" fill="none"/>
<text transform="translate(1656.60 805.90) scale(0.9150 1)" font-size="24" stroke="#111" stroke-width="0.55">p = 0.77</text>
<text transform="translate(1656.60 830.80) scale(0.9150 1)" font-size="24" stroke="#111" stroke-width="0.55">HR = 0.70,</text>
<text transform="translate(1656.60 855.70) scale(0.9150 1)" font-size="24" stroke="#111" stroke-width="0.55">95% CI: 0.05</text>
<text transform="translate(1656.60 878.90) scale(0.9150 1)" font-size="24" stroke="#111" stroke-width="0.55">~ 9.26</text>
<text transform="translate(1959.50 711.20) scale(0.9150 1)" font-size="24" stroke="#111" stroke-width="0.55">p = 2x10<tspan font-size="16" dy="-10">-7</tspan></text>
<text transform="translate(1959.50 736.10) scale(0.9150 1)" font-size="24" stroke="#111" stroke-width="0.55">HR = 0.03</text>
<text transform="translate(1959.50 760.00) scale(0.9150 1)" font-size="24" stroke="#111" stroke-width="0.55">95% CI: 0.005 ~ 0.19</text>
<text transform="translate(1715.40 970.30) scale(0.9402 1)" font-size="27.5" stroke="#111" stroke-width="0.55">Time from surgery, months</text>
<text transform="translate(1514.40 1022.10) scale(0.9300 1)" font-size="28" stroke="#111" stroke-width="0.55">At risk</text>
<text transform="translate(1642.30 1022.10) scale(0.9700 1)" font-size="28" text-anchor="middle" fill="#9c1d10" stroke="#9c1d10" stroke-width="0.55">43</text>
<text transform="translate(1836.60 1022.10) scale(0.9700 1)" font-size="28" text-anchor="middle" fill="#9c1d10" stroke="#9c1d10" stroke-width="0.55">39</text>
<text transform="translate(1919.60 1022.10) scale(0.9700 1)" font-size="28" text-anchor="middle" fill="#9c1d10" stroke="#9c1d10" stroke-width="0.55">36</text>
<text transform="translate(1982.70 1022.10) scale(0.9700 1)" font-size="28" text-anchor="middle" fill="#9c1d10" stroke="#9c1d10" stroke-width="0.55">25</text>
<text transform="translate(2044.10 1022.10) scale(0.9700 1)" font-size="28" text-anchor="middle" fill="#9c1d10" stroke="#9c1d10" stroke-width="0.55">11</text>
<text transform="translate(2102.90 1022.10) scale(0.9700 1)" font-size="28" text-anchor="middle" fill="#9c1d10" stroke="#9c1d10" stroke-width="0.55">0</text>
<text transform="translate(1643.30 1057.70) scale(0.9700 1)" font-size="28" text-anchor="middle" fill="#828282" stroke="#828282" stroke-width="0.55">14</text>
<text transform="translate(1837.20 1057.70) scale(0.9700 1)" font-size="28" text-anchor="middle" fill="#828282" stroke="#828282" stroke-width="0.55">13</text>
<text transform="translate(1920.30 1057.70) scale(0.9700 1)" font-size="28" text-anchor="middle" fill="#828282" stroke="#828282" stroke-width="0.55">10</text>
<text transform="translate(1986.70 1057.70) scale(0.9700 1)" font-size="28" text-anchor="middle" fill="#828282" stroke="#828282" stroke-width="0.55">2</text>
<text transform="translate(2044.10 1057.70) scale(0.9700 1)" font-size="28" text-anchor="middle" fill="#828282" stroke="#828282" stroke-width="0.55">0</text>
<text transform="translate(2102.90 1057.70) scale(0.9700 1)" font-size="28" text-anchor="middle" fill="#828282" stroke="#828282" stroke-width="0.55">0</text>
<text transform="translate(39.50 1150.00) scale(0.9700 1)" font-size="35" font-weight="bold" stroke="#111" stroke-width="0.3">d</text>
<line x1="135.00" y1="1152.00" x2="135.00" y2="1433.60" stroke="#000" stroke-width="2.6"/>
<line x1="126.50" y1="1153.30" x2="135.00" y2="1153.30" stroke="#000" stroke-width="2.6"/>
<text transform="translate(119.00 1163.50) scale(0.9550 1)" font-size="28.6" text-anchor="end" stroke="#111" stroke-width="0.55">100</text>
<line x1="126.50" y1="1223.05" x2="135.00" y2="1223.05" stroke="#000" stroke-width="2.6"/>
<text transform="translate(119.00 1233.25) scale(0.9550 1)" font-size="28.6" text-anchor="end" stroke="#111" stroke-width="0.55">75</text>
<line x1="126.50" y1="1292.80" x2="135.00" y2="1292.80" stroke="#000" stroke-width="2.6"/>
<text transform="translate(119.00 1303.00) scale(0.9550 1)" font-size="28.6" text-anchor="end" stroke="#111" stroke-width="0.55">50</text>
<line x1="126.50" y1="1362.55" x2="135.00" y2="1362.55" stroke="#000" stroke-width="2.6"/>
<text transform="translate(119.00 1372.75) scale(0.9550 1)" font-size="28.6" text-anchor="end" stroke="#111" stroke-width="0.55">25</text>
<line x1="126.50" y1="1432.30" x2="135.00" y2="1432.30" stroke="#000" stroke-width="2.6"/>
<text transform="translate(119.00 1442.50) scale(0.9550 1)" font-size="28.6" text-anchor="end" stroke="#111" stroke-width="0.55">0</text>
<line x1="133.70" y1="1432.30" x2="583.00" y2="1432.30" stroke="#000" stroke-width="2.6"/>
<line x1="135.00" y1="1432.30" x2="135.00" y2="1440.80" stroke="#000" stroke-width="2.6"/>
<text transform="translate(135.00 1471.70) scale(0.9550 1)" font-size="28.6" text-anchor="middle" stroke="#111" stroke-width="0.55">0</text>
<line x1="224.30" y1="1432.30" x2="224.30" y2="1440.80" stroke="#000" stroke-width="2.6"/>
<text transform="translate(224.30 1471.70) scale(0.9550 1)" font-size="28.6" text-anchor="middle" stroke="#111" stroke-width="0.55">6</text>
<line x1="313.30" y1="1432.30" x2="313.30" y2="1440.80" stroke="#000" stroke-width="2.6"/>
<text transform="translate(313.30 1471.70) scale(0.9550 1)" font-size="28.6" text-anchor="middle" stroke="#111" stroke-width="0.55">12</text>
<line x1="403.30" y1="1432.30" x2="403.30" y2="1440.80" stroke="#000" stroke-width="2.6"/>
<text transform="translate(403.30 1471.70) scale(0.9550 1)" font-size="28.6" text-anchor="middle" stroke="#111" stroke-width="0.55">18</text>
<line x1="492.30" y1="1432.30" x2="492.30" y2="1440.80" stroke="#000" stroke-width="2.6"/>
<text transform="translate(492.30 1471.70) scale(0.9550 1)" font-size="28.6" text-anchor="middle" stroke="#111" stroke-width="0.55">24</text>
<line x1="581.70" y1="1432.30" x2="581.70" y2="1440.80" stroke="#000" stroke-width="2.6"/>
<text transform="translate(581.70 1471.70) scale(0.9550 1)" font-size="28.6" text-anchor="middle" stroke="#111" stroke-width="0.55">30</text>
<text transform="translate(46.00 1305.00) rotate(-90) scale(0.9200 1)" font-size="28" text-anchor="middle" stroke="#111" stroke-width="0.55">EFS</text>
<text transform="translate(74.00 1305.00) rotate(-90) scale(0.9200 1)" font-size="28" text-anchor="middle" stroke="#111" stroke-width="0.55">Probability, %</text>
<path d="M135 1153.8H226.0V1173.3H228.3V1194.3H268.3V1214.3H292.7V1234.3H339.3V1254.0H361.7V1283.3H367.7V1320.7H450.0V1432.3" fill="none" stroke="#828282" stroke-width="5" stroke-linecap="round" stroke-linejoin="miter"/>
<path d="M345.00 1254.00V1237.20 M352.30 1254.00V1237.20 M360.00 1254.00V1237.20" stroke="#141414" stroke-width="1.8" fill="none"/>
<path d="M361.70 1283.30V1266.50" stroke="#141414" stroke-width="1.8" fill="none"/>
<path d="M389.00 1320.70V1303.90 M434.00 1320.70V1303.90" stroke="#141414" stroke-width="1.8" fill="none"/>
<path d="M135 1153.8H199.3V1174.4H545.4" fill="none" stroke="#68a6f0" stroke-width="5" stroke-linecap="round" stroke-linejoin="miter"/>
<path d="M300.50 1174.40V1157.60 M528.70 1174.40V1157.60 M544.40 1174.40V1157.60" stroke="#141414" stroke-width="1.8" fill="none"/>
<path d="M135 1154.0H217.5V1164.0H341.1V1174.8H527.4V1203.4H562.4" fill="none" stroke="#a8200f" stroke-width="5" stroke-linecap="round" stroke-linejoin="miter"/>
<path d="M189.00 1154.00V1137.20" stroke="#141414" stroke-width="1.8" fill="none"/>
<path d="M275.50 1164.00V1147.20 M303.90 1164.00V1147.20" stroke="#141414" stroke-width="1.8" fill="none"/>
<path d="M362.90 1174.80V1158.00 M364.50 1174.80V1158.00 M366.00 1174.80V1158.00 M367.50 1174.80V1158.00 M369.00 1174.80V1158.00 M370.60 1174.80V1158.00 M372.20 1174.80V1158.00 M379.50 1174.80V1158.00 M383.30 1174.80V1158.00 M407.00 1174.80V1158.00 M424.30 1174.80V1158.00 M438.00 1174.80V1158.00 M449.50 1174.80V1158.00 M456.50 1174.80V1158.00 M459.30 1174.80V1158.00 M460.60 1174.80V1158.00 M461.90 1174.80V1158.00 M463.10 1174.80V1158.00 M469.70 1174.80V1158.00" stroke="#141414" stroke-width="1.8" fill="none"/>
<path d="M534.60 1203.40V1186.60 M543.50 1203.40V1186.60 M545.40 1203.40V1186.60 M547.30 1203.40V1186.60 M553.90 1203.40V1186.60 M561.10 1203.40V1186.60" stroke="#141414" stroke-width="1.8" fill="none"/>
<line x1="460.70" y1="1224.30" x2="520.30" y2="1224.30" stroke="#a8200f" stroke-width="5.6" stroke-linecap="round"/>
<path d="M490.70 1224.30V1207.50" stroke="#141414" stroke-width="1.8" fill="none"/>
<line x1="460.70" y1="1283.30" x2="520.30" y2="1283.30" stroke="#68a6f0" stroke-width="5.6" stroke-linecap="round"/>
<path d="M490.70 1283.30V1266.50" stroke="#141414" stroke-width="1.8" fill="none"/>
<line x1="460.70" y1="1342.30" x2="520.30" y2="1342.30" stroke="#828282" stroke-width="5.6" stroke-linecap="round"/>
<path d="M490.70 1342.30V1325.50" stroke="#141414" stroke-width="1.8" fill="none"/>
<text transform="translate(555.00 1231.70) scale(0.9700 1)" font-size="22.5" stroke="#111" stroke-width="0.55">pCR</text>
<text transform="translate(555.00 1292.70) scale(0.9700 1)" font-size="22.5" stroke="#111" stroke-width="0.55">paR</text>
<text transform="translate(555.00 1350.00) scale(0.9689 1)" font-size="22.5" stroke="#111" stroke-width="0.55">non-pDS</text>
<text transform="translate(492.70 1404.00) scale(0.9150 1)" font-size="24" stroke="#111" stroke-width="0.55">p = 4x10<tspan font-size="16" dy="-10">-5</tspan></text>
<text transform="translate(206.70 1505.00) scale(0.9341 1)" font-size="27.5" stroke="#111" stroke-width="0.55">Time from therapy, months</text>
<text transform="translate(9.30 1559.30) scale(0.9300 1)" font-size="28" stroke="#111" stroke-width="0.55">At risk</text>
<text transform="translate(136.70 1559.30) scale(0.9700 1)" font-size="28" text-anchor="middle" fill="#9c1d10" stroke="#9c1d10" stroke-width="0.55">29</text>
<text transform="translate(228.30 1559.30) scale(0.9700 1)" font-size="28" text-anchor="middle" fill="#9c1d10" stroke="#9c1d10" stroke-width="0.55">27</text>
<text transform="translate(317.70 1559.30) scale(0.9700 1)" font-size="28" text-anchor="middle" fill="#9c1d10" stroke="#9c1d10" stroke-width="0.55">25</text>
<text transform="translate(406.70 1559.30) scale(0.9700 1)" font-size="28" text-anchor="middle" fill="#9c1d10" stroke="#9c1d10" stroke-width="0.55">17</text>
<text transform="translate(491.70 1559.30) scale(0.9700 1)" font-size="28" text-anchor="middle" fill="#9c1d10" stroke="#9c1d10" stroke-width="0.55">9</text>
<text transform="translate(581.70 1559.30) scale(0.9700 1)" font-size="28" text-anchor="middle" fill="#9c1d10" stroke="#9c1d10" stroke-width="0.55">0</text>
<text transform="translate(136.70 1598.30) scale(0.9700 1)" font-size="28" text-anchor="middle" fill="#68a6f0" stroke="#68a6f0" stroke-width="0.55">14</text>
<text transform="translate(224.00 1598.30) scale(0.9700 1)" font-size="28" text-anchor="middle" fill="#68a6f0" stroke="#68a6f0" stroke-width="0.55">13</text>
<text transform="translate(318.30 1598.30) scale(0.9700 1)" font-size="28" text-anchor="middle" fill="#68a6f0" stroke="#68a6f0" stroke-width="0.55">12</text>
<text transform="translate(405.00 1598.30) scale(0.9700 1)" font-size="28" text-anchor="middle" fill="#68a6f0" stroke="#68a6f0" stroke-width="0.55">9</text>
<text transform="translate(490.70 1598.30) scale(0.9700 1)" font-size="28" text-anchor="middle" fill="#68a6f0" stroke="#68a6f0" stroke-width="0.55">2</text>
<text transform="translate(581.70 1598.30) scale(0.9700 1)" font-size="28" text-anchor="middle" fill="#68a6f0" stroke="#68a6f0" stroke-width="0.55">0</text>
<text transform="translate(136.70 1640.00) scale(0.9700 1)" font-size="28" text-anchor="middle" fill="#828282" stroke="#828282" stroke-width="0.55">14</text>
<text transform="translate(229.30 1640.00) scale(0.9700 1)" font-size="28" text-anchor="middle" fill="#828282" stroke="#828282" stroke-width="0.55">14</text>
<text transform="translate(320.70 1640.00) scale(0.9700 1)" font-size="28" text-anchor="middle" fill="#828282" stroke="#828282" stroke-width="0.55">10</text>
<text transform="translate(408.30 1640.00) scale(0.9700 1)" font-size="28" text-anchor="middle" fill="#828282" stroke="#828282" stroke-width="0.55">2</text>
<text transform="translate(495.00 1640.00) scale(0.9700 1)" font-size="28" text-anchor="middle" fill="#828282" stroke="#828282" stroke-width="0.55">0</text>
<text transform="translate(581.70 1640.00) scale(0.9700 1)" font-size="28" text-anchor="middle" fill="#828282" stroke="#828282" stroke-width="0.55">0</text>
<text transform="translate(784.50 1150.00) scale(0.9700 1)" font-size="35" font-weight="bold" stroke="#111" stroke-width="0.3">e</text>
<line x1="913.30" y1="1152.00" x2="913.30" y2="1433.60" stroke="#000" stroke-width="2.6"/>
<line x1="904.80" y1="1153.30" x2="913.30" y2="1153.30" stroke="#000" stroke-width="2.6"/>
<text transform="translate(897.30 1163.50) scale(0.9550 1)" font-size="28.6" text-anchor="end" stroke="#111" stroke-width="0.55">100</text>
<line x1="904.80" y1="1223.05" x2="913.30" y2="1223.05" stroke="#000" stroke-width="2.6"/>
<text transform="translate(897.30 1233.25) scale(0.9550 1)" font-size="28.6" text-anchor="end" stroke="#111" stroke-width="0.55">75</text>
<line x1="904.80" y1="1292.80" x2="913.30" y2="1292.80" stroke="#000" stroke-width="2.6"/>
<text transform="translate(897.30 1303.00) scale(0.9550 1)" font-size="28.6" text-anchor="end" stroke="#111" stroke-width="0.55">50</text>
<line x1="904.80" y1="1362.55" x2="913.30" y2="1362.55" stroke="#000" stroke-width="2.6"/>
<text transform="translate(897.30 1372.75) scale(0.9550 1)" font-size="28.6" text-anchor="end" stroke="#111" stroke-width="0.55">25</text>
<line x1="904.80" y1="1432.30" x2="913.30" y2="1432.30" stroke="#000" stroke-width="2.6"/>
<text transform="translate(897.30 1442.50) scale(0.9550 1)" font-size="28.6" text-anchor="end" stroke="#111" stroke-width="0.55">0</text>
<line x1="912.00" y1="1432.30" x2="1361.30" y2="1432.30" stroke="#000" stroke-width="2.6"/>
<line x1="913.30" y1="1432.30" x2="913.30" y2="1440.80" stroke="#000" stroke-width="2.6"/>
<text transform="translate(913.30 1471.70) scale(0.9550 1)" font-size="28.6" text-anchor="middle" stroke="#111" stroke-width="0.55">0</text>
<line x1="1002.70" y1="1432.30" x2="1002.70" y2="1440.80" stroke="#000" stroke-width="2.6"/>
<text transform="translate(1002.70 1471.70) scale(0.9550 1)" font-size="28.6" text-anchor="middle" stroke="#111" stroke-width="0.55">6</text>
<line x1="1091.70" y1="1432.30" x2="1091.70" y2="1440.80" stroke="#000" stroke-width="2.6"/>
<text transform="translate(1091.70 1471.70) scale(0.9550 1)" font-size="28.6" text-anchor="middle" stroke="#111" stroke-width="0.55">12</text>
<line x1="1181.00" y1="1432.30" x2="1181.00" y2="1440.80" stroke="#000" stroke-width="2.6"/>
<text transform="translate(1181.00 1471.70) scale(0.9550 1)" font-size="28.6" text-anchor="middle" stroke="#111" stroke-width="0.55">18</text>
<line x1="1270.70" y1="1432.30" x2="1270.70" y2="1440.80" stroke="#000" stroke-width="2.6"/>
<text transform="translate(1270.70 1471.70) scale(0.9550 1)" font-size="28.6" text-anchor="middle" stroke="#111" stroke-width="0.55">24</text>
<line x1="1360.00" y1="1432.30" x2="1360.00" y2="1440.80" stroke="#000" stroke-width="2.6"/>
<text transform="translate(1360.00 1471.70) scale(0.9550 1)" font-size="28.6" text-anchor="middle" stroke="#111" stroke-width="0.55">30</text>
<text transform="translate(824.30 1305.00) rotate(-90) scale(0.9200 1)" font-size="28" text-anchor="middle" stroke="#111" stroke-width="0.55">OS</text>
<text transform="translate(852.30 1305.00) rotate(-90) scale(0.9200 1)" font-size="28" text-anchor="middle" stroke="#111" stroke-width="0.55">Probability, %</text>
<path d="M913.3 1153.8H1042.7V1174.0H1046.0V1194.3H1090.0V1214.0H1117.7V1234.0H1140.0V1253.3H1229.0V1290.0H1329.3" fill="none" stroke="#828282" stroke-width="5" stroke-linecap="round" stroke-linejoin="miter"/>
<path d="M1164.30 1253.30V1236.50 M1185.00 1253.30V1236.50 M1212.30 1253.30V1236.50" stroke="#141414" stroke-width="1.8" fill="none"/>
<path d="M1236.00 1290.00V1273.20 M1282.30 1290.00V1273.20 M1319.30 1290.00V1273.20 M1328.30 1290.00V1273.20" stroke="#141414" stroke-width="1.8" fill="none"/>
<path d="M913.3 1153.8H977.3V1174.1H1341.7" fill="none" stroke="#68a6f0" stroke-width="5" stroke-linecap="round" stroke-linejoin="miter"/>
<path d="M1150.10 1174.10V1157.30 M1185.20 1174.10V1157.30 M1188.50 1174.10V1157.30 M1217.50 1174.10V1157.30 M1230.10 1174.10V1157.30 M1276.10 1174.10V1157.30 M1282.10 1174.10V1157.30 M1311.70 1174.10V1157.30 M1320.90 1174.10V1157.30 M1324.00 1174.10V1157.30 M1341.10 1174.10V1157.30" stroke="#141414" stroke-width="1.8" fill="none"/>
<path d="M913.3 1154.0H996.7V1163.6H1341.7" fill="none" stroke="#a8200f" stroke-width="5" stroke-linecap="round" stroke-linejoin="miter"/>
<path d="M1118.20 1163.60V1146.80 M1150.10 1163.60V1146.80 M1184.00 1163.60V1146.80 M1185.40 1163.60V1146.80 M1186.60 1163.60V1146.80 M1207.90 1163.60V1146.80 M1227.70 1163.60V1146.80 M1228.90 1163.60V1146.80 M1230.10 1163.60V1146.80 M1231.30 1163.60V1146.80 M1234.90 1163.60V1146.80 M1241.80 1163.60V1146.80 M1248.10 1163.60V1146.80 M1262.90 1163.60V1146.80 M1273.30 1163.60V1146.80 M1274.50 1163.60V1146.80 M1275.70 1163.60V1146.80 M1276.90 1163.60V1146.80 M1313.20 1163.60V1146.80 M1320.10 1163.60V1146.80 M1321.60 1163.60V1146.80 M1323.10 1163.60V1146.80 M1324.60 1163.60V1146.80 M1326.10 1163.60V1146.80 M1332.70 1163.60V1146.80 M1339.90 1163.60V1146.80" stroke="#141414" stroke-width="1.8" fill="none"/>
<line x1="952.00" y1="1284.10" x2="1012.30" y2="1284.10" stroke="#a8200f" stroke-width="5.6" stroke-linecap="round"/>
<path d="M981.70 1284.10V1267.30" stroke="#141414" stroke-width="1.8" fill="none"/>
<line x1="952.00" y1="1344.00" x2="1012.30" y2="1344.00" stroke="#68a6f0" stroke-width="5.6" stroke-linecap="round"/>
<path d="M981.70 1344.00V1327.20" stroke="#141414" stroke-width="1.8" fill="none"/>
<line x1="952.00" y1="1402.70" x2="1012.30" y2="1402.70" stroke="#828282" stroke-width="5.6" stroke-linecap="round"/>
<path d="M981.70 1402.70V1385.90" stroke="#141414" stroke-width="1.8" fill="none"/>
<text transform="translate(1046.70 1292.70) scale(0.9700 1)" font-size="22.5" stroke="#111" stroke-width="0.55">pCR</text>
<text transform="translate(1046.70 1352.70) scale(0.9700 1)" font-size="22.5" stroke="#111" stroke-width="0.55">paR</text>
<text transform="translate(1046.70 1410.00) scale(0.9689 1)" font-size="22.5" stroke="#111" stroke-width="0.55">non-pDS</text>
<text transform="translate(1170.70 1410.00) scale(0.9150 1)" font-size="24" stroke="#111" stroke-width="0.55">p = 0.001</text>
<text transform="translate(985.00 1501.70) scale(0.9341 1)" font-size="27.5" stroke="#111" stroke-width="0.55">Time from therapy, months</text>
<text transform="translate(791.00 1559.30) scale(0.9300 1)" font-size="28" stroke="#111" stroke-width="0.55">At risk</text>
<text transform="translate(918.30 1559.30) scale(0.9700 1)" font-size="28" text-anchor="middle" fill="#9c1d10" stroke="#9c1d10" stroke-width="0.55">29</text>
<text transform="translate(1008.30 1559.30) scale(0.9700 1)" font-size="28" text-anchor="middle" fill="#9c1d10" stroke="#9c1d10" stroke-width="0.55">28</text>
<text transform="translate(1099.30 1559.30) scale(0.9700 1)" font-size="28" text-anchor="middle" fill="#9c1d10" stroke="#9c1d10" stroke-width="0.55">28</text>
<text transform="translate(1190.00 1559.30) scale(0.9700 1)" font-size="28" text-anchor="middle" fill="#9c1d10" stroke="#9c1d10" stroke-width="0.55">25</text>
<text transform="translate(1281.70 1559.30) scale(0.9700 1)" font-size="28" text-anchor="middle" fill="#9c1d10" stroke="#9c1d10" stroke-width="0.55">12</text>
<text transform="translate(1364.00 1559.30) scale(0.9700 1)" font-size="28" text-anchor="middle" fill="#9c1d10" stroke="#9c1d10" stroke-width="0.55">0</text>
<text transform="translate(919.00 1598.30) scale(0.9700 1)" font-size="28" text-anchor="middle" fill="#68a6f0" stroke="#68a6f0" stroke-width="0.55">14</text>
<text transform="translate(1005.70 1598.30) scale(0.9700 1)" font-size="28" text-anchor="middle" fill="#68a6f0" stroke="#68a6f0" stroke-width="0.55">13</text>
<text transform="translate(1100.00 1598.30) scale(0.9700 1)" font-size="28" text-anchor="middle" fill="#68a6f0" stroke="#68a6f0" stroke-width="0.55">13</text>
<text transform="translate(1193.30 1598.30) scale(0.9700 1)" font-size="28" text-anchor="middle" fill="#68a6f0" stroke="#68a6f0" stroke-width="0.55">11</text>
<text transform="translate(1277.30 1598.30) scale(0.9700 1)" font-size="28" text-anchor="middle" fill="#68a6f0" stroke="#68a6f0" stroke-width="0.55">7</text>
<text transform="translate(1364.00 1598.30) scale(0.9700 1)" font-size="28" text-anchor="middle" fill="#68a6f0" stroke="#68a6f0" stroke-width="0.55">0</text>
<text transform="translate(919.30 1641.70) scale(0.9700 1)" font-size="28" text-anchor="middle" fill="#828282" stroke="#828282" stroke-width="0.55">14</text>
<text transform="translate(1011.70 1641.70) scale(0.9700 1)" font-size="28" text-anchor="middle" fill="#828282" stroke="#828282" stroke-width="0.55">14</text>
<text transform="translate(1098.30 1641.70) scale(0.9700 1)" font-size="28" text-anchor="middle" fill="#828282" stroke="#828282" stroke-width="0.55">11</text>
<text transform="translate(1190.00 1641.70) scale(0.9700 1)" font-size="28" text-anchor="middle" fill="#828282" stroke="#828282" stroke-width="0.55">8</text>
<text transform="translate(1285.00 1641.70) scale(0.9700 1)" font-size="28" text-anchor="middle" fill="#828282" stroke="#828282" stroke-width="0.55">3</text>
<text transform="translate(1364.00 1641.70) scale(0.9700 1)" font-size="28" text-anchor="middle" fill="#828282" stroke="#828282" stroke-width="0.55">0</text>
<text transform="translate(1484.00 1150.00) scale(0.9700 1)" font-size="35" font-weight="bold" stroke="#111" stroke-width="0.3">f</text>
<line x1="1644.00" y1="1152.00" x2="1644.00" y2="1433.60" stroke="#000" stroke-width="2.6"/>
<line x1="1635.50" y1="1153.30" x2="1644.00" y2="1153.30" stroke="#000" stroke-width="2.6"/>
<text transform="translate(1628.00 1163.50) scale(0.9550 1)" font-size="28.6" text-anchor="end" stroke="#111" stroke-width="0.55">100</text>
<line x1="1635.50" y1="1223.05" x2="1644.00" y2="1223.05" stroke="#000" stroke-width="2.6"/>
<text transform="translate(1628.00 1233.25) scale(0.9550 1)" font-size="28.6" text-anchor="end" stroke="#111" stroke-width="0.55">75</text>
<line x1="1635.50" y1="1292.80" x2="1644.00" y2="1292.80" stroke="#000" stroke-width="2.6"/>
<text transform="translate(1628.00 1303.00) scale(0.9550 1)" font-size="28.6" text-anchor="end" stroke="#111" stroke-width="0.55">50</text>
<line x1="1635.50" y1="1362.55" x2="1644.00" y2="1362.55" stroke="#000" stroke-width="2.6"/>
<text transform="translate(1628.00 1372.75) scale(0.9550 1)" font-size="28.6" text-anchor="end" stroke="#111" stroke-width="0.55">25</text>
<line x1="1635.50" y1="1432.30" x2="1644.00" y2="1432.30" stroke="#000" stroke-width="2.6"/>
<text transform="translate(1628.00 1442.50) scale(0.9550 1)" font-size="28.6" text-anchor="end" stroke="#111" stroke-width="0.55">0</text>
<line x1="1642.70" y1="1432.30" x2="2092.00" y2="1432.30" stroke="#000" stroke-width="2.6"/>
<line x1="1644.00" y1="1432.30" x2="1644.00" y2="1440.80" stroke="#000" stroke-width="2.6"/>
<text transform="translate(1644.00 1471.70) scale(0.9550 1)" font-size="28.6" text-anchor="middle" stroke="#111" stroke-width="0.55">0</text>
<line x1="1733.70" y1="1432.30" x2="1733.70" y2="1440.80" stroke="#000" stroke-width="2.6"/>
<text transform="translate(1733.70 1471.70) scale(0.9550 1)" font-size="28.6" text-anchor="middle" stroke="#111" stroke-width="0.55">6</text>
<line x1="1823.00" y1="1432.30" x2="1823.00" y2="1440.80" stroke="#000" stroke-width="2.6"/>
<text transform="translate(1823.00 1471.70) scale(0.9550 1)" font-size="28.6" text-anchor="middle" stroke="#111" stroke-width="0.55">12</text>
<line x1="1912.30" y1="1432.30" x2="1912.30" y2="1440.80" stroke="#000" stroke-width="2.6"/>
<text transform="translate(1912.30 1471.70) scale(0.9550 1)" font-size="28.6" text-anchor="middle" stroke="#111" stroke-width="0.55">18</text>
<line x1="2002.00" y1="1432.30" x2="2002.00" y2="1440.80" stroke="#000" stroke-width="2.6"/>
<text transform="translate(2002.00 1471.70) scale(0.9550 1)" font-size="28.6" text-anchor="middle" stroke="#111" stroke-width="0.55">24</text>
<line x1="2090.70" y1="1432.30" x2="2090.70" y2="1440.80" stroke="#000" stroke-width="2.6"/>
<text transform="translate(2090.70 1471.70) scale(0.9550 1)" font-size="28.6" text-anchor="middle" stroke="#111" stroke-width="0.55">30</text>
<text transform="translate(1555.00 1305.00) rotate(-90) scale(0.9200 1)" font-size="28" text-anchor="middle" stroke="#111" stroke-width="0.55">RFS</text>
<text transform="translate(1583.00 1305.00) rotate(-90) scale(0.9200 1)" font-size="28" text-anchor="middle" stroke="#111" stroke-width="0.55">Probability, %</text>
<path d="M1644 1153.8H1681.5V1172.4H1690.7V1194.3H1729.7V1214.3H1750.7V1234.3H1803.0V1254.0H1818.0V1275.7H1827.3V1316.0H1875.3V1375.0H1898.7" fill="none" stroke="#828282" stroke-width="5" stroke-linecap="round" stroke-linejoin="miter"/>
<path d="M1814.70 1254.00V1237.20" stroke="#141414" stroke-width="1.8" fill="none"/>
<path d="M1823.00 1275.70V1258.90" stroke="#141414" stroke-width="1.8" fill="none"/>
<path d="M1839.00 1316.00V1299.20" stroke="#141414" stroke-width="1.8" fill="none"/>
<path d="M1898.00 1375.00V1358.20" stroke="#141414" stroke-width="1.8" fill="none"/>
<path d="M1644 1153.8H1652.9V1175.2H2025.6" fill="none" stroke="#68a6f0" stroke-width="5" stroke-linecap="round" stroke-linejoin="miter"/>
<path d="M1761.80 1175.20V1158.40" stroke="#141414" stroke-width="1.8" fill="none"/>
<path d="M1644 1154.0H1658.5V1164.1H1822.7V1177.0H2025.6" fill="none" stroke="#a8200f" stroke-width="5" stroke-linecap="round" stroke-linejoin="miter"/>
<path d="M1644.60 1154.00V1137.20" stroke="#141414" stroke-width="1.8" fill="none"/>
<path d="M1726.70 1164.10V1147.30 M1737.80 1164.10V1147.30 M1818.60 1164.10V1147.30 M1820.00 1164.10V1147.30 M1821.60 1164.10V1147.30 M1823.20 1164.10V1147.30" stroke="#141414" stroke-width="1.8" fill="none"/>
<path d="M1827.30 1177.00V1160.20 M1829.10 1177.00V1160.20 M1833.40 1177.00V1160.20 M1841.10 1177.00V1160.20 M1886.90 1177.00V1160.20 M1898.30 1177.00V1160.20 M1899.80 1177.00V1160.20 M1902.00 1177.00V1160.20 M1906.00 1177.00V1160.20 M1909.70 1177.00V1160.20 M1911.20 1177.00V1160.20 M1912.70 1177.00V1160.20 M1914.50 1177.00V1160.20 M1916.40 1177.00V1160.20 M1918.20 1177.00V1160.20 M1920.10 1177.00V1160.20 M1921.40 1177.00V1160.20 M1988.30 1177.00V1160.20 M1995.70 1177.00V1160.20 M1998.30 1177.00V1160.20 M1999.80 1177.00V1160.20 M2001.30 1177.00V1160.20 M2006.20 1177.00V1160.20 M2025.60 1177.00V1160.20" stroke="#141414" stroke-width="1.8" fill="none"/>
<line x1="1884.40" y1="1224.30" x2="1944.90" y2="1224.30" stroke="#a8200f" stroke-width="5.6" stroke-linecap="round"/>
<path d="M1914.70 1224.30V1207.50" stroke="#141414" stroke-width="1.8" fill="none"/>
<line x1="1884.40" y1="1284.00" x2="1944.90" y2="1284.00" stroke="#68a6f0" stroke-width="5.6" stroke-linecap="round"/>
<path d="M1914.70 1284.00V1267.20" stroke="#141414" stroke-width="1.8" fill="none"/>
<line x1="1884.40" y1="1343.30" x2="1944.90" y2="1343.30" stroke="#828282" stroke-width="5.6" stroke-linecap="round"/>
<path d="M1914.70 1343.30V1326.50" stroke="#141414" stroke-width="1.8" fill="none"/>
<text transform="translate(1978.70 1231.70) scale(0.9700 1)" font-size="22.5" stroke="#111" stroke-width="0.55">pCR</text>
<text transform="translate(1978.70 1292.70) scale(0.9700 1)" font-size="22.5" stroke="#111" stroke-width="0.55">paR</text>
<text transform="translate(1978.70 1350.70) scale(0.9689 1)" font-size="22.5" stroke="#111" stroke-width="0.55">non-pDS</text>
<text transform="translate(1904.00 1404.00) scale(0.9150 1)" font-size="24" stroke="#111" stroke-width="0.55">p = 6x10<tspan font-size="16" dy="-10">-5</tspan></text>
<text transform="translate(1716.30 1500.00) scale(0.9353 1)" font-size="27.5" stroke="#111" stroke-width="0.55">Time from surgery, months</text>
<text transform="translate(1518.00 1560.00) scale(0.9300 1)" font-size="28" stroke="#111" stroke-width="0.55">At risk</text>
<text transform="translate(1645.30 1560.00) scale(0.9700 1)" font-size="28" text-anchor="middle" fill="#9c1d10" stroke="#9c1d10" stroke-width="0.55">29</text>
<text transform="translate(1737.30 1560.00) scale(0.9700 1)" font-size="28" text-anchor="middle" fill="#9c1d10" stroke="#9c1d10" stroke-width="0.55">26</text>
<text transform="translate(1832.00 1560.00) scale(0.9700 1)" font-size="28" text-anchor="middle" fill="#9c1d10" stroke="#9c1d10" stroke-width="0.55">23</text>
<text transform="translate(1918.70 1560.00) scale(0.9700 1)" font-size="28" text-anchor="middle" fill="#9c1d10" stroke="#9c1d10" stroke-width="0.55">14</text>
<text transform="translate(2009.70 1560.00) scale(0.9700 1)" font-size="28" text-anchor="middle" fill="#9c1d10" stroke="#9c1d10" stroke-width="0.55">3</text>
<text transform="translate(2095.30 1560.00) scale(0.9700 1)" font-size="28" text-anchor="middle" fill="#9c1d10" stroke="#9c1d10" stroke-width="0.55">0</text>
<text transform="translate(1646.30 1601.70) scale(0.9700 1)" font-size="28" text-anchor="middle" fill="#68a6f0" stroke="#68a6f0" stroke-width="0.55">14</text>
<text transform="translate(1739.70 1601.70) scale(0.9700 1)" font-size="28" text-anchor="middle" fill="#68a6f0" stroke="#68a6f0" stroke-width="0.55">12</text>
<text transform="translate(1833.00 1598.00) scale(0.9700 1)" font-size="28" text-anchor="middle" fill="#68a6f0" stroke="#68a6f0" stroke-width="0.55">10</text>
<text transform="translate(1923.00 1601.70) scale(0.9700 1)" font-size="28" text-anchor="middle" fill="#68a6f0" stroke="#68a6f0" stroke-width="0.55">4</text>
<text transform="translate(2011.30 1601.70) scale(0.9700 1)" font-size="28" text-anchor="middle" fill="#68a6f0" stroke="#68a6f0" stroke-width="0.55">0</text>
<text transform="translate(2095.30 1601.70) scale(0.9700 1)" font-size="28" text-anchor="middle" fill="#68a6f0" stroke="#68a6f0" stroke-width="0.55">0</text>
<text transform="translate(1646.30 1645.00) scale(0.9700 1)" font-size="28" text-anchor="middle" fill="#828282" stroke="#828282" stroke-width="0.55">14</text>
<text transform="translate(1738.70 1641.70) scale(0.9700 1)" font-size="28" text-anchor="middle" fill="#828282" stroke="#828282" stroke-width="0.55">11</text>
<text transform="translate(1834.70 1641.70) scale(0.9700 1)" font-size="28" text-anchor="middle" fill="#828282" stroke="#828282" stroke-width="0.55">6</text>
<text transform="translate(1924.70 1641.70) scale(0.9700 1)" font-size="28" text-anchor="middle" fill="#828282" stroke="#828282" stroke-width="0.55">0</text>
<text transform="translate(2014.00 1641.70) scale(0.9700 1)" font-size="28" text-anchor="middle" fill="#828282" stroke="#828282" stroke-width="0.55">0</text>
<text transform="translate(2095.30 1646.70) scale(0.9700 1)" font-size="28" text-anchor="middle" fill="#828282" stroke="#828282" stroke-width="0.55">0</text>
</g>
</svg>
</body></html>
